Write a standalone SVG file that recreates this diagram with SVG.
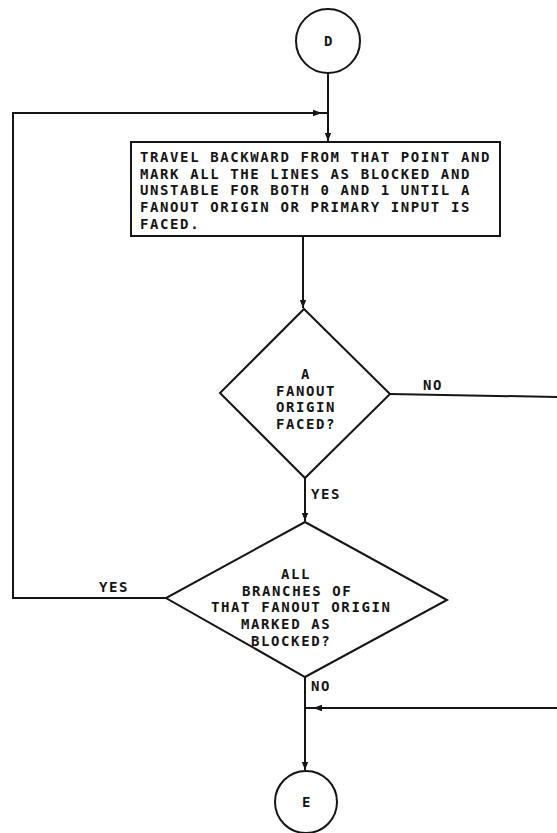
<svg xmlns="http://www.w3.org/2000/svg" width="557" height="833" viewBox="0 0 557 833">
  <style>
    .shape { fill: #ffffff; stroke: #151515; stroke-width: 2; }
    .wire { fill: none; stroke: #151515; stroke-width: 2; }
    .head { fill: #151515; stroke: none; }
    text { font-family: "DejaVu Sans Mono", "Liberation Mono", monospace; font-weight: bold; font-size: 14px; letter-spacing: 1.6px; fill: #151515; }
    .c { text-anchor: middle; }
  </style>
  <defs>
    <marker id="arrow" viewBox="0 0 10 8" refX="10" refY="4" markerWidth="8" markerHeight="6.4" markerUnits="userSpaceOnUse" orient="auto">
      <path d="M0,0 L10,4 L0,8 z" fill="#151515"/>
    </marker>
  </defs>
  <rect width="557" height="833" fill="#ffffff"/>

  <!-- connectors -->
  <g id="connectors">
    <!-- D to process box -->
    <line class="wire" x1="328" y1="73" x2="328" y2="141" marker-end="url(#arrow)"/>
    <!-- loop back from YES branch of second decision -->
    <polyline class="wire" points="166,598 13,598 13,113 328,113"/>
    <polygon class="head" points="322,113 313,109.8 313,116.2"/>
    <!-- box to first decision -->
    <line class="wire" x1="303" y1="236" x2="303" y2="308" marker-end="url(#arrow)"/>
    <!-- NO branch of first decision, leaving to the right -->
    <line class="wire" x1="390" y1="394" x2="557" y2="397"/>
    <!-- YES branch of first decision -->
    <line class="wire" x1="305" y1="478" x2="305" y2="521" marker-end="url(#arrow)"/>
    <!-- NO branch of second decision to E -->
    <line class="wire" x1="305" y1="677" x2="305" y2="770" marker-end="url(#arrow)"/>
    <!-- incoming line joining from the right -->
    <line class="wire" x1="557" y1="708" x2="305" y2="708"/>
    <polygon class="head" points="313,708 322,704.8 322,711.2"/>
  </g>

  <!-- connector labels -->
  <g id="labels">
    <text x="423" y="390">NO</text>
    <text x="311" y="499">YES</text>
    <text x="99" y="592">YES</text>
    <text x="311" y="691">NO</text>
  </g>

  <g id="node-d">
    <circle class="shape" cx="328" cy="41" r="32"/>
    <text class="c" x="329" y="46">D</text>
  </g>

  <g id="node-travel">
    <rect class="shape" x="131" y="142" width="369" height="94"/>
    <text x="140" y="162">TRAVEL BACKWARD FROM THAT POINT AND</text>
    <text x="140" y="178.7">MARK ALL THE LINES AS BLOCKED AND</text>
    <text x="140" y="195.4">UNSTABLE FOR BOTH 0 AND 1 UNTIL A</text>
    <text x="140" y="212.1">FANOUT ORIGIN OR PRIMARY INPUT IS</text>
    <text x="140" y="228.8">FACED.</text>
  </g>

  <g id="node-fanout-faced">
    <polygon class="shape" points="304,309 390,394 305,478 220,393"/>
    <text class="c" x="306" y="379">A</text>
    <text class="c" x="306" y="395.7">FANOUT</text>
    <text class="c" x="306" y="412.4">ORIGIN</text>
    <text class="c" x="306" y="429.1">FACED?</text>
  </g>

  <g id="node-all-blocked">
    <polygon class="shape" points="305,522 447,600 305,677 166,598"/>
    <text x="281" y="579">ALL</text>
    <text x="242" y="595.7">BRANCHES OF</text>
    <text x="211" y="612.4">THAT FANOUT ORIGIN</text>
    <text x="241" y="629.1">MARKED AS</text>
    <text x="251" y="645.8">BLOCKED?</text>
  </g>

  <g id="node-e">
    <circle class="shape" cx="306" cy="802" r="31"/>
    <text class="c" x="307" y="807">E</text>
  </g>
</svg>
